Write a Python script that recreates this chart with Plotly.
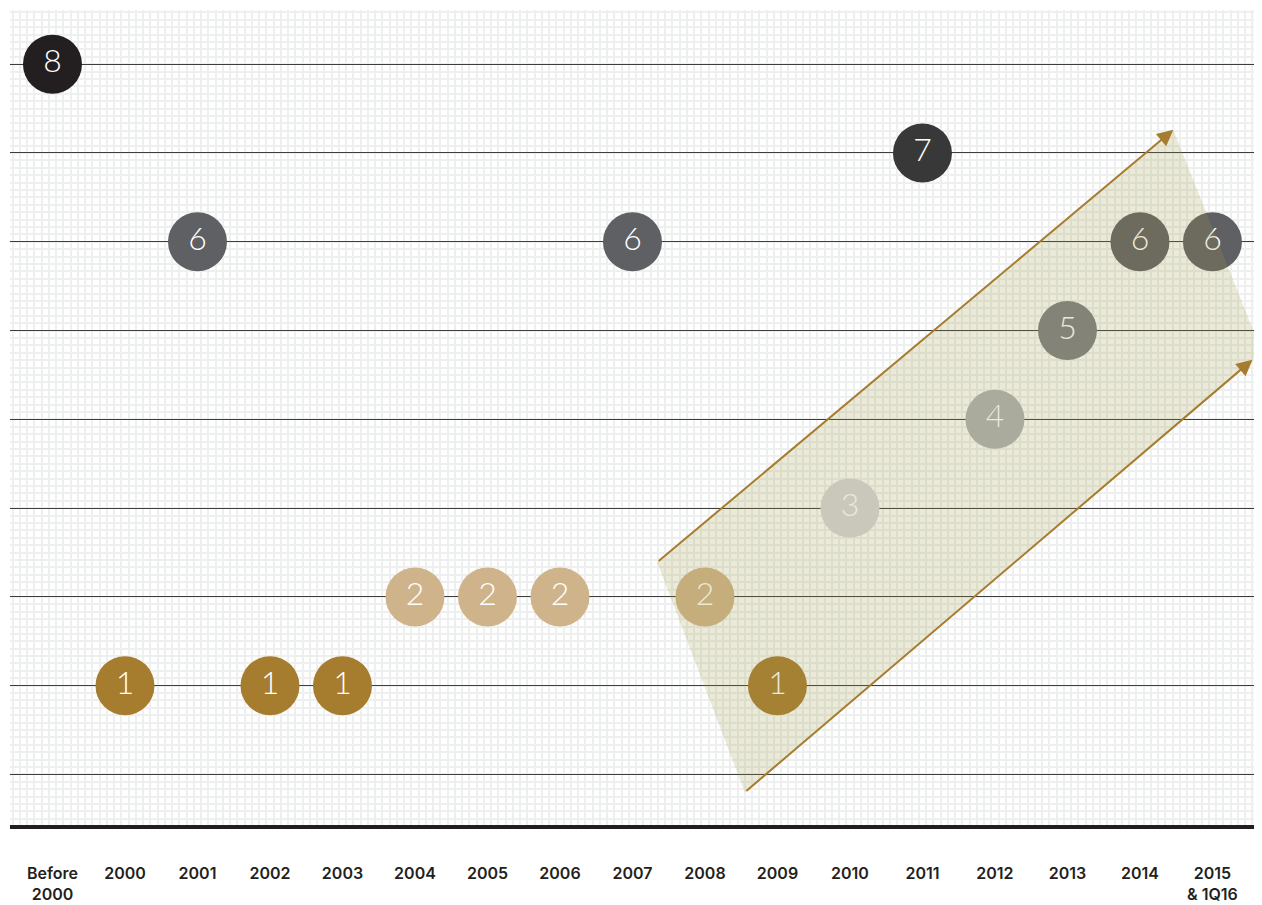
import plotly.graph_objects as go

# Categories along the bottom and the value (circle level) for each one
categories = ["Before<br>2000", "2000", "2001", "2002", "2003", "2004", "2005", "2006",
              "2007", "2008", "2009", "2010", "2011", "2012", "2013", "2014", "2015<br>& 1Q16"]
levels = [8, 1, 6, 1, 1, 2, 2, 2, 6, 2, 1, 3, 7, 4, 5, 6, 6]

# colour per level
level_colors = {
    1: "#a67c2e",
    2: "#cfb38b",
    3: "#d4d6da",
    4: "#adafb4",
    5: "#7c7e84",
    6: "#5f6064",
    7: "#383838",
    8: "#231f20",
}

# shaded trend band (corner points in axis units: bottom-left, top-left, top-right, bottom-right)
band_x = [9.55, 8.34, 15.46, 16.68]
band_y = [-0.20, 2.39, 7.26, 4.76]

GOLD = "#a67c2e"
INK = "#231f20"
PATTERN = "#eef0ef"
X_MAX = 16.573

xs = list(range(len(categories)))

fig = go.Figure(
    go.Scatter(
        x=xs,
        y=levels,
        mode="markers+text",
        text=[str(v) for v in levels],
        textposition="middle center",
        textfont=dict(family="Lato, sans-serif", size=32, color="#ffffff", weight=300),
        marker=dict(size=59, color=[level_colors[v] for v in levels], line=dict(width=0)),
        cliponaxis=False,
        hoverinfo="skip",
    )
)

# translucent band drawn over the circles
path = "M {} {} L {} {} L {} {} L {} {} Z".format(
    band_x[0], band_y[0], band_x[1], band_y[1], band_x[2], band_y[2], band_x[3], band_y[3])
fig.add_shape(type="path", path=path, xref="x", yref="y", layer="above",
              fillcolor="rgba(160,150,70,0.21)", line=dict(width=0))

# the two arrows along the long edges of the band (lower one stops at the right edge)
t = (X_MAX - 0.02 - band_x[0]) / (band_x[3] - band_x[0])
low_end = (band_x[0] + t * (band_x[3] - band_x[0]), band_y[0] + t * (band_y[3] - band_y[0]))
for (x0, y0), (x1, y1) in [((band_x[1], band_y[1]), (band_x[2], band_y[2])),
                           ((band_x[0], band_y[0]), low_end)]:
    fig.add_annotation(x=x1, y=y1, ax=x0, ay=y0, xref="x", yref="y", axref="x", ayref="y",
                       text="", showarrow=True, arrowhead=2, arrowsize=1.6, arrowwidth=2,
                       arrowcolor=GOLD, standoff=0, startstandoff=0)

fig.update_layout(
    width=1246,
    height=897,
    margin=dict(l=2, r=0, t=2, b=80, autoexpand=False),
    paper_bgcolor="#ffffff",
    plot_bgcolor="#ffffff",
    showlegend=False,
)
fig.update_xaxes(
    range=[-0.586, X_MAX],
    automargin=False,
    tickmode="array",
    tickvals=xs,
    ticktext=categories,
    ticks="",
    ticklabelstandoff=31,
    tickfont=dict(family="Inter, sans-serif", size=16, color=INK, weight=600),
    showgrid=False,
    zeroline=False,
    showline=True,
    linewidth=4,
    linecolor=INK,
    minor=dict(tickmode="linear", tick0=0.05, dtick=0.1, showgrid=True,
               gridcolor=PATTERN, gridwidth=2, ticks=""),
)
fig.update_yaxes(
    range=[-0.569, 8.61],
    automargin=False,
    tickmode="array",
    tickvals=list(range(0, 9)),
    showticklabels=False,
    ticks="",
    showgrid=True,
    gridcolor="#3d3d3d",
    gridwidth=1,
    zeroline=False,
    minor=dict(tickmode="linear", tick0=0, dtick=1 / 12, showgrid=True,
               gridcolor=PATTERN, gridwidth=2, ticks=""),
)

fig.write_html("out.html")
